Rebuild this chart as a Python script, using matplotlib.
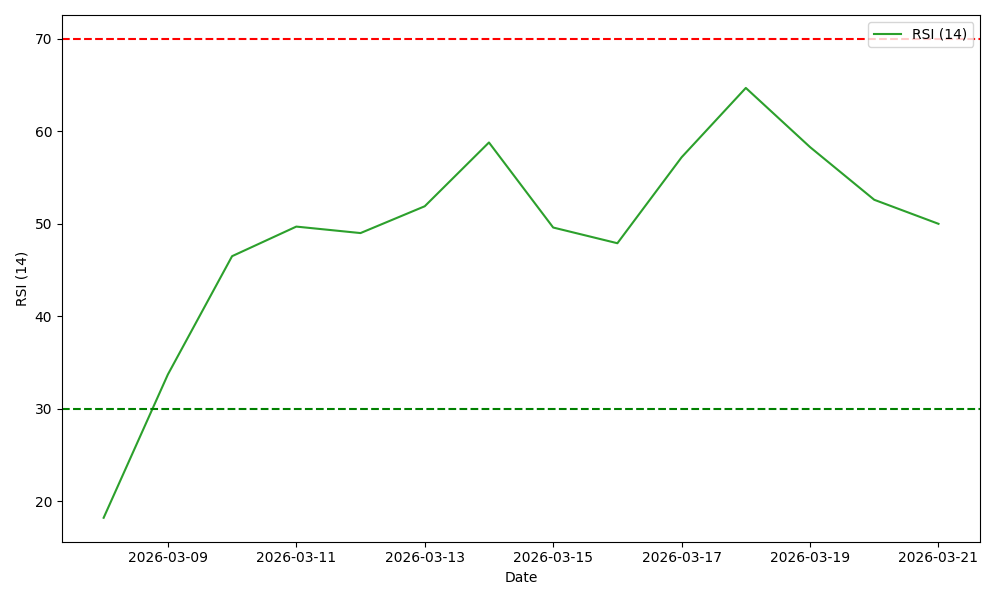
import matplotlib
matplotlib.use("Agg")
import matplotlib.pyplot as plt
import pandas as pd

dates = pd.date_range("2026-03-08", "2026-03-21", freq="D")
rsi_values = [18.2, 33.7, 46.5, 49.7, 49.0, 51.9, 58.8, 49.6, 47.9, 57.2, 64.7, 58.3, 52.6, 50.0]
overbought = 70
oversold = 30

fig, ax = plt.subplots(figsize=(10, 6), dpi=100)
ax.plot(dates, rsi_values, color="tab:green", label="RSI (14)")
ax.axhline(overbought, color="r", linestyle="--")
ax.axhline(oversold, color="g", linestyle="--")

ax.set_xlabel("Date")
ax.set_ylabel("RSI (14)")
ax.set_xticks(dates[1::2])
ax.xaxis.set_major_formatter(matplotlib.dates.DateFormatter("%Y-%m-%d"))
ax.legend(loc="upper right")

plt.tight_layout()
plt.savefig("out.png")
